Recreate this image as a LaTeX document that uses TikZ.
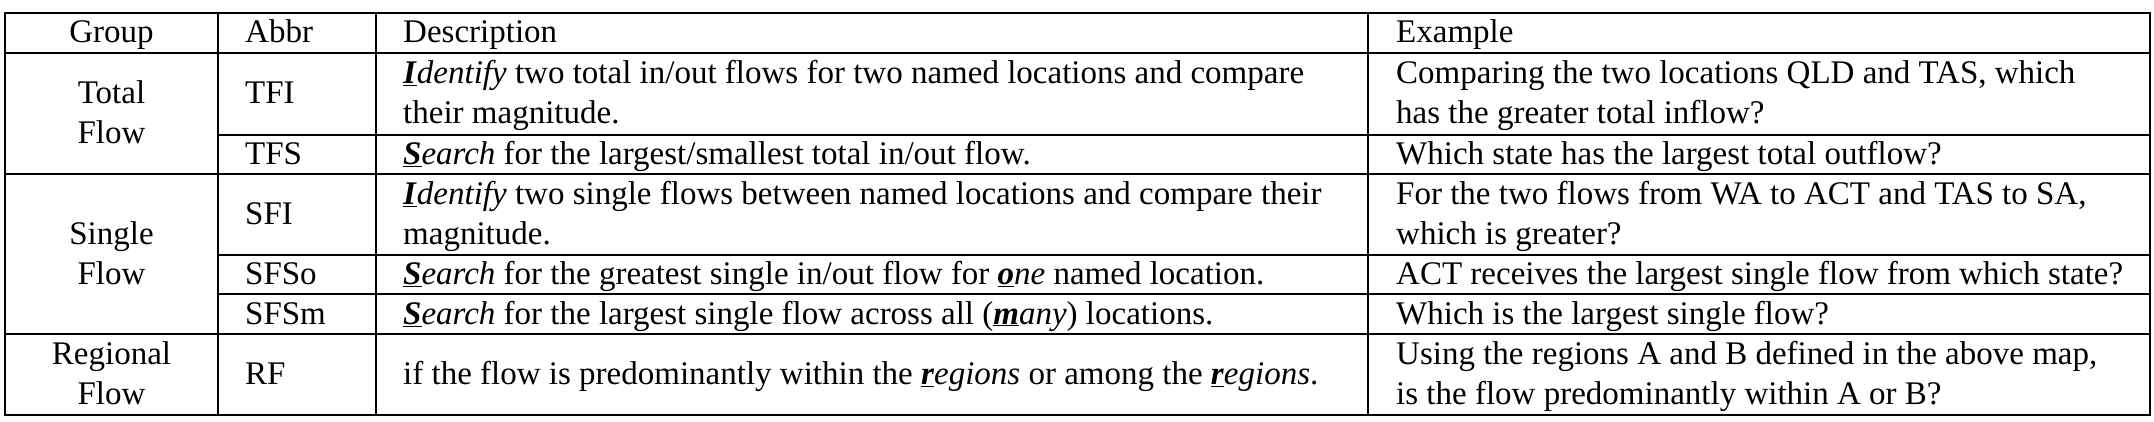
\documentclass[tikz,border=0pt]{standalone}
\usepackage{fontspec}
\setmainfont{Liberation Serif}
\usepackage{tikz}
\usetikzlibrary{positioning}
\newcommand{\keyl}[1]{\underline{\textbf{\textit{#1}}}}

\begin{document}
\begin{tikzpicture}[x=1pt, y=-1pt, font=\fontsize{33}{40}\selectfont]
			\tikzstyle{cell} = [inner sep=0pt, anchor=base west, align=left]
			\tikzstyle{mid} = [inner sep=0pt, anchor=base, align=center]
			\tikzstyle{rule} = [line width=1.6pt]
			\useasboundingbox (0,0) rectangle (2154,422);

			% grid
			\draw[rule] (5,13) rectangle (2150,415);
			\foreach \y in {53,174,334} \draw[rule] (5,\y) -- (2150,\y);
			\foreach \y in {135,255,294} \draw[rule] (218,\y) -- (2150,\y);
			\foreach \x in {218,376,1368} \draw[rule] (\x,13) -- (\x,415);

			% header
			\node[mid] (group) at (111.5,43) {Group};
			\node[cell] (abbr) at (245,43) {Abbr};
			\node[cell] (desc) at (403,43) {Description};
			\node[cell] (ex) at (1396,43) {Example};

			% groups (base = last line)
			\node[mid] (total) at (111.5,143.5) {Total\\Flow};
			\node[mid] (single) at (111.5,284) {Single\\Flow};
			\node[mid] (regional) at (111.5,404.5) {Regional\\Flow};

			% abbreviations
			\node[cell] (tfi) at (245,104) {TFI};
			\node[cell] (tfs) at (245,164.5) {TFS};
			\node[cell] (sfi) at (245,224.5) {SFI};
			\node[cell] (sfso) at (245,284.5) {SFSo};
			\node[cell] (sfsm) at (245,324) {SFSm};
			\node[cell] (rf) at (245,384.5) {RF};

			% descriptions
			\node[cell] (tfid) at (403,124) {\keyl{I}\textit{dentify} two total in/out flows for two named locations and compare\\their magnitude.};
			\node[cell] (tfsd) at (403,164.5) {\keyl{S}\textit{earch} for the largest/smallest total in/out flow.};
			\node[cell] (sfid) at (403,244.5) {\keyl{I}\textit{dentify} two single flows between named locations and compare their\\magnitude.};
			\node[cell] (sfsod) at (403,284.5) {\keyl{S}\textit{earch} for the greatest single in/out flow for \keyl{o}\textit{ne} named location.};
			\node[cell] (sfsmd) at (403,324) {\keyl{S}\textit{earch} for the largest single flow across all (\keyl{m}\textit{any}) locations.};
			\node[cell] (rfd) at (403,384.5) {if the flow is predominantly within the \keyl{r}\textit{egions} or among the \keyl{r}\textit{egions}.};

			% examples
			\node[cell] (tfie) at (1396,124) {Comparing the two locations QLD and TAS, which\\has the greater total inflow?};
			\node[cell] (tfse) at (1396,164.5) {Which state has the largest total outflow?};
			\node[cell] (sfie) at (1396,244.5) {For the two flows from WA to ACT and TAS to SA,\\which is greater?};
			\node[cell] (sfsoe) at (1396,284.5) {ACT receives the largest single flow from which state?};
			\node[cell] (sfsme) at (1396,324) {Which is the largest single flow?};
			\node[cell] (rfe) at (1396,404.5) {Using the regions A and B defined in the above map,\\is the flow predominantly within A or B?};
\end{tikzpicture}
\end{document}
